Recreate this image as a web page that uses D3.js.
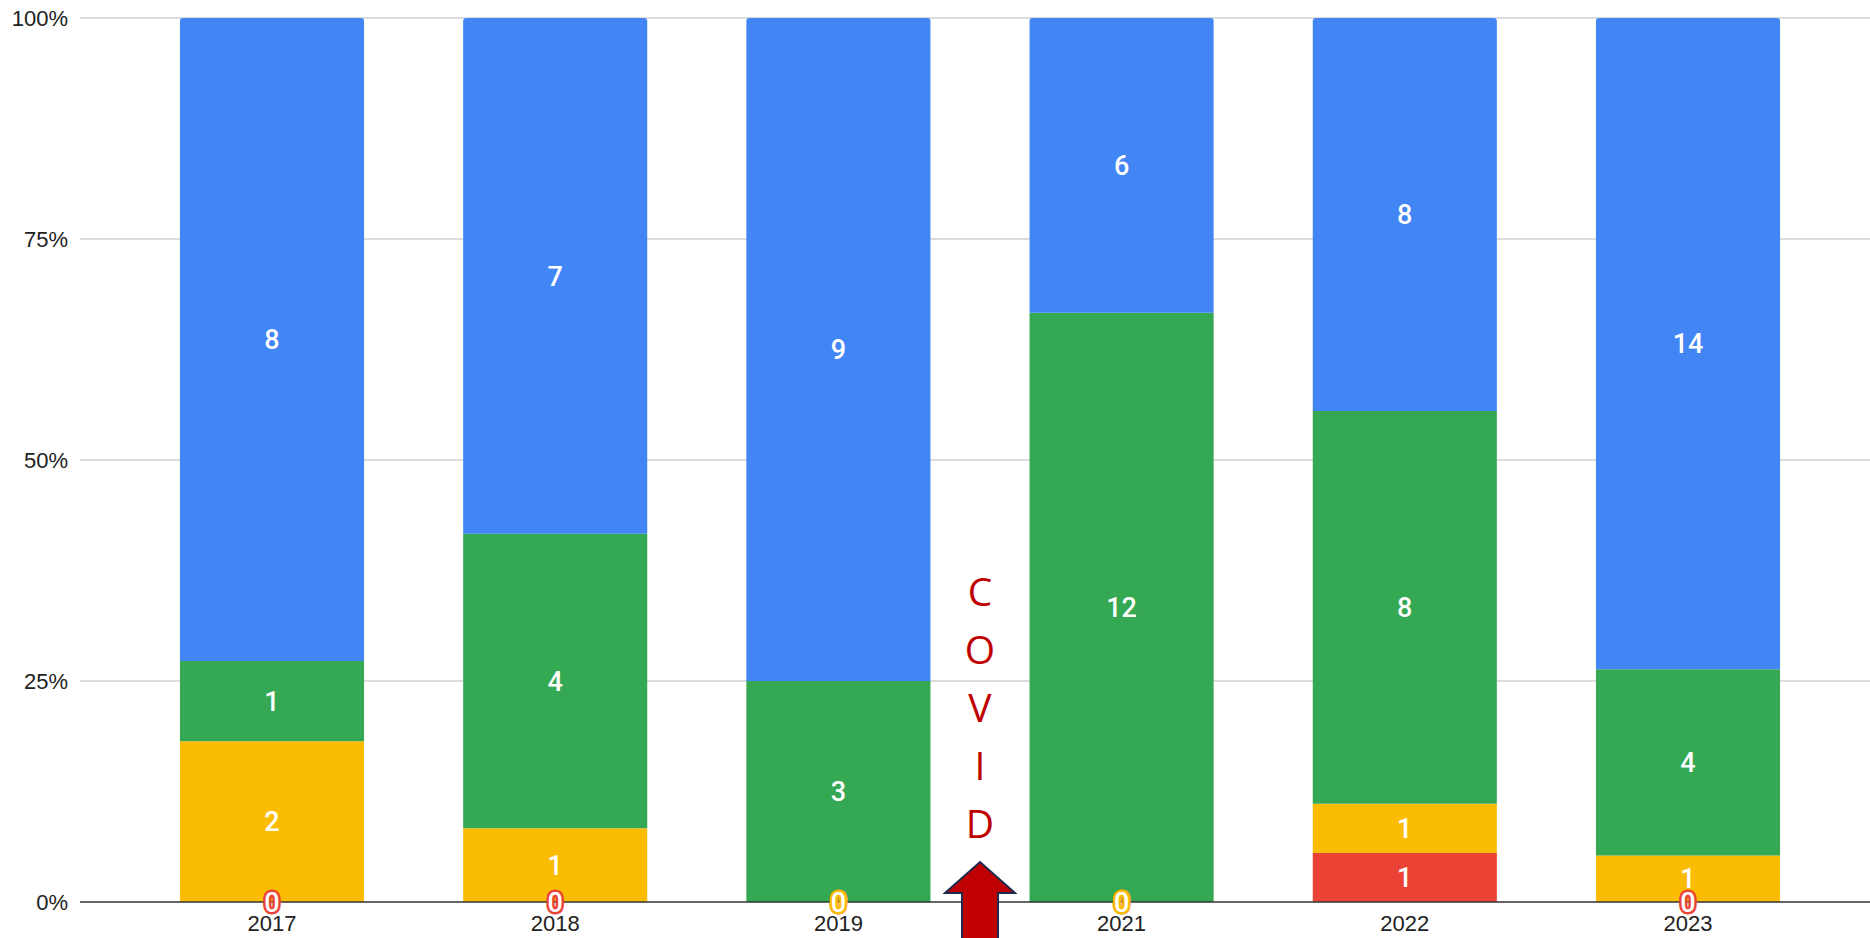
<!DOCTYPE html>
<html>
<head>
<meta charset="utf-8">
<script src="https://cdn.jsdelivr.net/npm/d3@7"></script>
<style>
  html, body { margin: 0; padding: 0; background: #fff; }
  svg { display: block; }
</style>
</head>
<body>
<svg id="chart" width="1870" height="938"></svg>
<script>
// ---- data ----
const years = ["2017", "2018", "2019", "2021", "2022", "2023"];
const seriesNames = ["red", "yellow", "green", "blue"];
const redValues    = [0, 0, 0, 0, 1, 0];
const yellowValues = [2, 1, 0, 0, 1, 1];
const greenValues  = [1, 4, 3, 12, 8, 4];
const blueValues   = [8, 7, 9, 6, 8, 14];
const tickValues = [0, 0.25, 0.5, 0.75, 1];
const tickLabels = ["0%", "25%", "50%", "75%", "100%"];
const annotationLetters = ["C", "O", "V", "I", "D"];

const colors = { red: "#EA4335", yellow: "#FBBC04", green: "#34A853", blue: "#4285F4" };

const rows = years.map((y, i) => ({
  year: y, red: redValues[i], yellow: yellowValues[i], green: greenValues[i], blue: blueValues[i]
}));

const stack = d3.stack().keys(seriesNames).offset(d3.stackOffsetExpand);
const layers = stack(rows);

// ---- layout ----
const svg = d3.select("#chart");
const plotLeft = 80, plotRight = 1870, plotTop = 18, plotBottom = 902;

const x = d3.scaleBand().domain(years).range([130.4, 1829.6]).paddingInner(0.35).paddingOuter(0.175);
const y = d3.scaleLinear().domain([0, 1]).range([plotBottom, plotTop]);

// gridlines
svg.append("g").selectAll("line").data(tickValues.filter(v => v > 0)).join("line")
  .attr("x1", plotLeft).attr("x2", plotRight)
  .attr("y1", d => y(d)).attr("y2", d => y(d))
  .attr("stroke", "#d0d0d0").attr("stroke-width", 1.5);

// y tick labels
svg.append("g").selectAll("text").data(tickValues).join("text")
  .attr("x", 68).attr("y", d => y(d)).attr("dy", "0.35em")
  .attr("text-anchor", "end")
  .attr("font-family", "Arial, 'Liberation Sans', sans-serif")
  .attr("font-size", 22).attr("fill", "#222")
  .text((d, i) => tickLabels[i]);

// bars
function barPath(x0, x1, y0, y1, r) {
  const h = y0 - y1;
  if (h <= 0) return "";
  r = Math.min(r, h);
  return `M${x0},${y0}L${x0},${y1 + r}Q${x0},${y1} ${x0 + r},${y1}L${x1 - r},${y1}Q${x1},${y1} ${x1},${y1 + r}L${x1},${y0}Z`;
}
const barsG = svg.append("g");
layers.forEach(layer => {
  barsG.append("g").selectAll("path").data(layer).join("path")
    .attr("d", d => {
      const isTop = Math.abs(d[1] - 1) < 1e-9;
      return barPath(x(d.data.year), x(d.data.year) + x.bandwidth(), y(d[0]), y(d[1]), isTop ? 3 : 0);
    })
    .attr("fill", colors[layer.key]);
});

// baseline
svg.append("line")
  .attr("x1", plotLeft).attr("x2", plotRight)
  .attr("y1", y(0)).attr("y2", y(0))
  .attr("stroke", "#333").attr("stroke-width", 1.5);

// x labels
svg.append("g").selectAll("text").data(years).join("text")
  .attr("x", d => x(d) + x.bandwidth() / 2).attr("y", 931)
  .attr("text-anchor", "middle")
  .attr("font-family", "Arial, 'Liberation Sans', sans-serif")
  .attr("font-size", 22).attr("fill", "#222")
  .text(d => d);

// data labels
const labelsG = svg.append("g");
layers.forEach(layer => {
  labelsG.append("g").selectAll("text").data(layer).join("text")
    .attr("x", d => x(d.data.year) + x.bandwidth() / 2)
    .attr("y", d => (y(d[0]) + y(d[1])) / 2)
    .attr("dy", "0.36em")
    .attr("text-anchor", "middle")
    .attr("font-family", "Roboto, Arial, sans-serif")
    .attr("font-size", 27)
    .attr("font-weight", 500)
    .attr("fill", "#fff")
    .attr("stroke", d => (d.data[layer.key] === 0 ? colors[layer.key] : "none"))
    .attr("stroke-width", 5)
    .attr("paint-order", "stroke")
    .attr("stroke-linejoin", "round")
    .text(d => d.data[layer.key]);
});

// COVID annotation
const covidX = (x("2019") + x.bandwidth() + x("2021")) / 2;
svg.append("g").selectAll("text").data(annotationLetters).join("text")
  .attr("x", covidX)
  .attr("y", (d, i) => 592 + i * 58)
  .attr("dy", "0.36em")
  .attr("text-anchor", "middle")
  .attr("font-family", "'Open Sans', 'Noto Sans', sans-serif")
  .attr("font-size", 39)
  .attr("fill", "#C00000")
  .text(d => d);

// arrow
const ax = covidX;
svg.append("path")
  .attr("d", `M${ax},862 L${ax + 35},893 L${ax + 18},893 L${ax + 18},945 L${ax - 18},945 L${ax - 18},893 L${ax - 35},893 Z`)
  .attr("fill", "#C00000")
  .attr("stroke", "#1F2A4E")
  .attr("stroke-width", 2)
  .attr("stroke-linejoin", "miter");
</script>
</body>
</html>
